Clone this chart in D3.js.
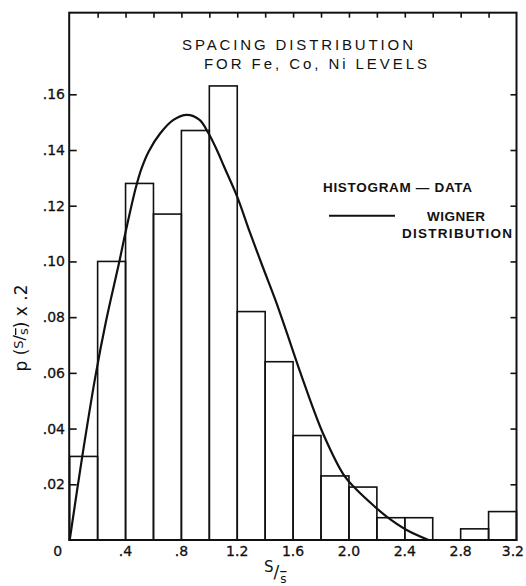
<!DOCTYPE html>
<html>
<head>
<meta charset="utf-8">
<script src="https://cdn.jsdelivr.net/npm/d3@7"></script>
<style>
  html, body { margin: 0; padding: 0; background: #fff; }
  svg { display: block; }
  text { fill: #111; }
  .bar-over { text-decoration: overline; }
</style>
</head>
<body>
<svg id="chart" width="526" height="586"></svg>
<script>
// Histogram bins: left edge of each bin in S/S̄, bin width 0.2
const binStarts = [0, 0.2, 0.4, 0.6, 0.8, 1.0, 1.2, 1.4, 1.6, 1.8, 2.0, 2.2, 2.4, 2.6, 2.8, 3.0];
const binWidth = 0.2;
// Observed spacing distribution, p(S/S̄) x 0.2
const binValues = [0.030, 0.100, 0.128, 0.117, 0.147, 0.163, 0.082, 0.064, 0.0375, 0.023, 0.019, 0.008, 0.008, 0, 0.004, 0.0102];

// Wigner distribution curve (S/S̄, p x 0.2)
const wignerS = [0, 0.09, 0.185, 0.26, 0.354, 0.40, 0.472, 0.514, 0.566, 0.649, 0.743, 0.84, 0.93, 0.994, 1.054, 1.106, 1.20, 1.29, 1.383, 1.473, 1.548, 1.671, 1.819, 1.97, 2.05, 2.18, 2.27, 2.41, 2.57];
const wignerP = [0, 0.030, 0.059, 0.0785, 0.0996, 0.1105, 0.1262, 0.1333, 0.1395, 0.146, 0.1508, 0.1526, 0.1508, 0.146, 0.140, 0.134, 0.1232, 0.1105, 0.098, 0.0862, 0.0754, 0.0574, 0.0377, 0.0228, 0.0183, 0.0122, 0.0084, 0.0037, 0];

// Axis ticks
const xTickValues = [0, 0.4, 0.8, 1.2, 1.6, 2.0, 2.4, 2.8, 3.2];
const xTickLabels = ["0", ".4", ".8", "1.2", "1.6", "2.0", "2.4", "2.8", "3.2"];
const xMinorTicks = [0.2, 0.4, 0.6, 0.8, 1.0, 1.2, 1.4, 1.6, 1.8, 2.0, 2.2, 2.4, 2.6, 2.8, 3.0];
const yTickValues = [0.02, 0.04, 0.06, 0.08, 0.10, 0.12, 0.14, 0.16];
const yTickLabels = [".02", ".04", ".06", ".08", ".10", ".12", ".14", ".16"];
const yTop = 0.1893;

const svg = d3.select("#chart");
const x = d3.scaleLinear().domain([0, 3.2]).range([69.7, 516.5]);
const y = d3.scaleLinear().domain([0, 0.16]).range([540, 94.3]);

const font = "'DejaVu Sans', sans-serif";

// Histogram bars
const bins = binStarts.map((s, i) => ({ s, v: binValues[i] })).filter(d => d.v > 0);
svg.append("g")
  .selectAll("rect")
  .data(bins)
  .join("rect")
  .attr("x", d => x(d.s))
  .attr("y", d => y(d.v))
  .attr("width", d => x(d.s + binWidth) - x(d.s))
  .attr("height", d => y(0) - y(d.v))
  .attr("fill", "none")
  .attr("stroke", "#111")
  .attr("stroke-width", 1.6);

// Wigner curve
const line = d3.line()
  .x((d, i) => x(wignerS[i]))
  .y(d => y(d))
  .curve(d3.curveCatmullRom.alpha(0.5));
svg.append("path")
  .attr("d", line(wignerP))
  .attr("fill", "none")
  .attr("stroke", "#111")
  .attr("stroke-width", 2.2);

// Frame
svg.append("rect")
  .attr("x", x(0) - 0.5)
  .attr("y", y(yTop))
  .attr("width", x(3.2) - x(0) + 0.5)
  .attr("height", y(0) - y(yTop))
  .attr("fill", "none")
  .attr("stroke", "#111")
  .attr("stroke-width", 2);

// Left axis: inward ticks + labels
const leftAxis = d3.axisRight(y).tickValues(yTickValues).tickSize(7).tickFormat("");
svg.append("g").attr("transform", `translate(${x(0)},0)`).call(leftAxis)
  .call(g => g.select(".domain").remove())
  .call(g => g.selectAll("line").attr("stroke", "#111").attr("stroke-width", 1.6));
svg.append("g").selectAll("text")
  .data(yTickValues)
  .join("text")
  .attr("x", 65)
  .attr("y", d => y(d) + 5)
  .attr("text-anchor", "end")
  .attr("font-family", font)
  .attr("font-size", 14)
  .attr("stroke", "#111").attr("stroke-width", 0.3)
  .text((d, i) => yTickLabels[i]);

// Right axis: inward ticks
const rightAxis = d3.axisLeft(y).tickValues(yTickValues).tickSize(6).tickFormat("");
svg.append("g").attr("transform", `translate(${x(3.2)},0)`).call(rightAxis)
  .call(g => g.select(".domain").remove())
  .call(g => g.selectAll("line").attr("stroke", "#111").attr("stroke-width", 1.6));

// Top axis: inward ticks
const topAxis = d3.axisBottom(x).tickValues(xMinorTicks).tickSize(5).tickFormat("");
svg.append("g").attr("transform", `translate(0,${y(yTop)})`).call(topAxis)
  .call(g => g.select(".domain").remove())
  .call(g => g.selectAll("line").attr("stroke", "#111").attr("stroke-width", 1.6));

// Bottom labels (first and last are nudged to stay inside the page)
const lastTick = xTickValues[xTickValues.length - 1];
svg.append("g").selectAll("text")
  .data(xTickValues)
  .join("text")
  .attr("x", d => d === 0 ? x(d) - 12 : d === lastTick ? 524 : x(d))
  .attr("y", 556)
  .attr("text-anchor", d => d === lastTick ? "end" : "middle")
  .attr("font-family", font)
  .attr("font-size", 14)
  .attr("stroke", "#111").attr("stroke-width", 0.3)
  .text((d, i) => xTickLabels[i]);

// X axis title  S/s̄
const xt = svg.append("text")
  .attr("x", 264)
  .attr("y", 572)
  .attr("font-family", font)
  .attr("fill", "#111");
xt.append("tspan").attr("font-size", 15).text("S");
xt.append("tspan").attr("font-size", 17).attr("dy", 6).text("/");
xt.append("tspan").attr("class", "bar-over").attr("font-size", 12).attr("dy", 5).attr("dx", 1).text("s");

// Y axis title  p (S/s̄) x .2
const yt = svg.append("text")
  .attr("transform", "translate(27,328) rotate(-90)")
  .attr("text-anchor", "middle")
  .attr("font-family", font)
  .attr("font-size", 17)
  .attr("fill", "#111");
yt.append("tspan").text("p  (");
yt.append("tspan").attr("font-size", 13).attr("dy", -4).text("S");
yt.append("tspan").attr("font-size", 16).attr("dy", 2).text("/");
yt.append("tspan").attr("class", "bar-over").attr("font-size", 13).attr("dy", 3).text("s");
yt.append("tspan").attr("dy", -1).text(")  x  .2");

// Title
svg.append("text")
  .attr("x", 182).attr("y", 50)
  .attr("font-family", "'Liberation Sans', sans-serif")
  .attr("font-size", 15)
  .attr("textLength", 231).attr("lengthAdjust", "spacing")
  .text("SPACING  DISTRIBUTION");
svg.append("text")
  .attr("x", 204).attr("y", 69)
  .attr("font-family", "'Liberation Sans', sans-serif")
  .attr("font-size", 15)
  .attr("textLength", 223).attr("lengthAdjust", "spacing")
  .text("FOR  Fe, Co, Ni  LEVELS");

// Legend
const legendFont = "'Liberation Sans', sans-serif";
svg.append("text")
  .attr("x", 323).attr("y", 192)
  .attr("font-family", legendFont).attr("font-weight", "bold").attr("font-size", 13.5)
  .attr("textLength", 149).attr("lengthAdjust", "spacing")
  .text("HISTOGRAM \u2014 DATA");
svg.append("line")
  .attr("x1", 329).attr("x2", 395).attr("y1", 215.7).attr("y2", 215.7)
  .attr("stroke", "#111").attr("stroke-width", 2);
svg.append("text")
  .attr("x", 427).attr("y", 221)
  .attr("font-family", legendFont).attr("font-weight", "bold").attr("font-size", 13.5)
  .attr("textLength", 58).attr("lengthAdjust", "spacing")
  .text("WIGNER");
svg.append("text")
  .attr("x", 402).attr("y", 238)
  .attr("font-family", legendFont).attr("font-weight", "bold").attr("font-size", 13.5)
  .attr("textLength", 110).attr("lengthAdjust", "spacing")
  .text("DISTRIBUTION");
</script>
</body>
</html>
